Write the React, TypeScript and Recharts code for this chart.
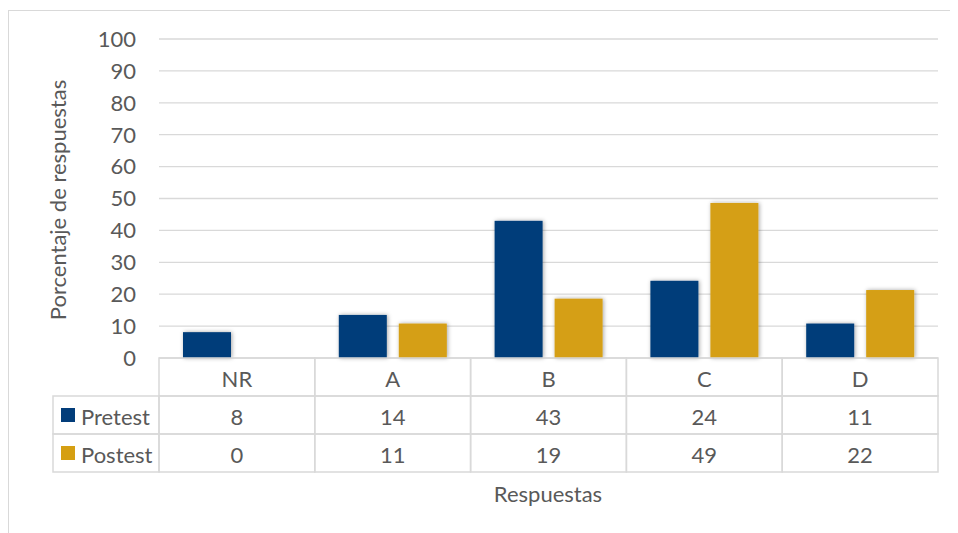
import { Bar, BarChart, CartesianGrid, Label, XAxis, YAxis } from "recharts"

const categories = ["NR", "A", "B", "C", "D"]
const pretest = [8.1, 13.5, 43.0, 24.2, 10.8]
const postest = [0, 10.8, 18.6, 48.6, 21.3]
const pretestLabels = ["8", "14", "43", "24", "11"]
const postestLabels = ["0", "11", "19", "49", "22"]
const yTicks = [0, 10, 20, 30, 40, 50, 60, 70, 80, 90, 100]

const data = categories.map((name, i) => ({ name, pretest: pretest[i], postest: postest[i] }))

const FONT = "Lato, 'Open Sans', sans-serif"
const FS = 22
const TEXT = "#595959"
const LINE = "#d9d9d9"
const NAVY = "#023d7a"
const GOLD = "#d59f12"
const ROW = 38
const HALF = 77.9

const ShadowBar = (props: any) => {
  const { x, y, width, height, fill } = props
  if (!height || height <= 0) return null
  return <rect x={x} y={y} width={width} height={height} fill={fill} filter="url(#barShadow)" />
}

const TableTick = (props: any) => {
  const { x, y, payload } = props
  const i = payload.index
  const cell = (row: number, text: string) => (
    <g key={row}>
      <rect x={x - HALF} y={y + row * ROW} width={HALF * 2} height={ROW} fill="none" stroke={LINE} strokeWidth={1.5} />
      <text x={x} y={y + row * ROW + ROW / 2 + 1} textAnchor="middle" dominantBaseline="central" fill={TEXT} fontSize={FS} fontFamily={FONT}>
        {text}
      </text>
    </g>
  )
  const left = x - HALF - 106
  return (
    <g>
      {cell(0, categories[i])}
      {cell(1, pretestLabels[i])}
      {cell(2, postestLabels[i])}
      {i === 0 && (
        <g>
          <rect x={left} y={y + ROW} width={106} height={ROW} fill="none" stroke={LINE} strokeWidth={1.5} />
          <rect x={left} y={y + ROW * 2} width={106} height={ROW} fill="none" stroke={LINE} strokeWidth={1.5} />
          <rect x={left + 8} y={y + ROW + 12} width={14} height={14} fill={NAVY} />
          <rect x={left + 8} y={y + ROW * 2 + 12} width={14} height={14} fill={GOLD} />
          <text x={left + 28} y={y + ROW * 1.5 + 1} dominantBaseline="central" fill={TEXT} fontSize={FS} fontFamily={FONT}>
            Pretest
          </text>
          <text x={left + 28} y={y + ROW * 2.5 + 1} dominantBaseline="central" fill={TEXT} fontSize={FS} fontFamily={FONT}>
            Postest
          </text>
        </g>
      )}
    </g>
  )
}

export default function App() {
  return (
    <div style={{ position: "relative", marginTop: 2, width: 950, height: 523, borderTop: `1px solid ${LINE}`, borderLeft: `1px solid ${LINE}` }}>
      <svg width={0} height={0} style={{ position: "absolute" }}>
        <defs>
          <filter id="barShadow" x="-20%" y="-20%" width="140%" height="140%">
            <feDropShadow dx={1} dy={0} stdDeviation={2} floodColor="#000" floodOpacity={0.35} />
          </filter>
        </defs>
      </svg>
      <BarChart
        width={949}
        height={522}
        data={data}
        margin={{ top: 28, right: 20, left: 0, bottom: 0 }}
        barCategoryGap={24}
        barGap={12}
      >
        <CartesianGrid vertical={false} stroke={LINE} strokeWidth={1.3} />
        <XAxis
          dataKey="name"
          height={175}
          axisLine={false}
          tickLine={false}
          tickSize={0}
          tickMargin={0}
          interval={0}
          tick={<TableTick />}
        >
          <Label
            content={() => (
              <text x={539} y={482} textAnchor="middle" dominantBaseline="central" fill={TEXT} fontSize={FS} fontFamily={FONT}>
                Respuestas
              </text>
            )}
          />
        </XAxis>
        <YAxis
          width={150}
          domain={[0, 100]}
          ticks={yTicks}
          axisLine={false}
          tickLine={false}
          tickSize={0}
          tickMargin={23}
          tick={{ fill: TEXT, fontSize: FS, fontFamily: FONT }}
        >
          <Label
            content={() => (
              <text
                x={48}
                y={189}
                transform="rotate(-90 48 189)"
                textAnchor="middle"
                dominantBaseline="central"
                fill={TEXT}
                fontSize={FS}
                fontFamily={FONT}
              >
                Porcentaje de respuestas
              </text>
            )}
          />
        </YAxis>
        <Bar dataKey="pretest" name="Pretest" fill={NAVY} shape={<ShadowBar />} isAnimationActive={false} />
        <Bar dataKey="postest" name="Postest" fill={GOLD} shape={<ShadowBar />} isAnimationActive={false} />
      </BarChart>
    </div>
  )
}
